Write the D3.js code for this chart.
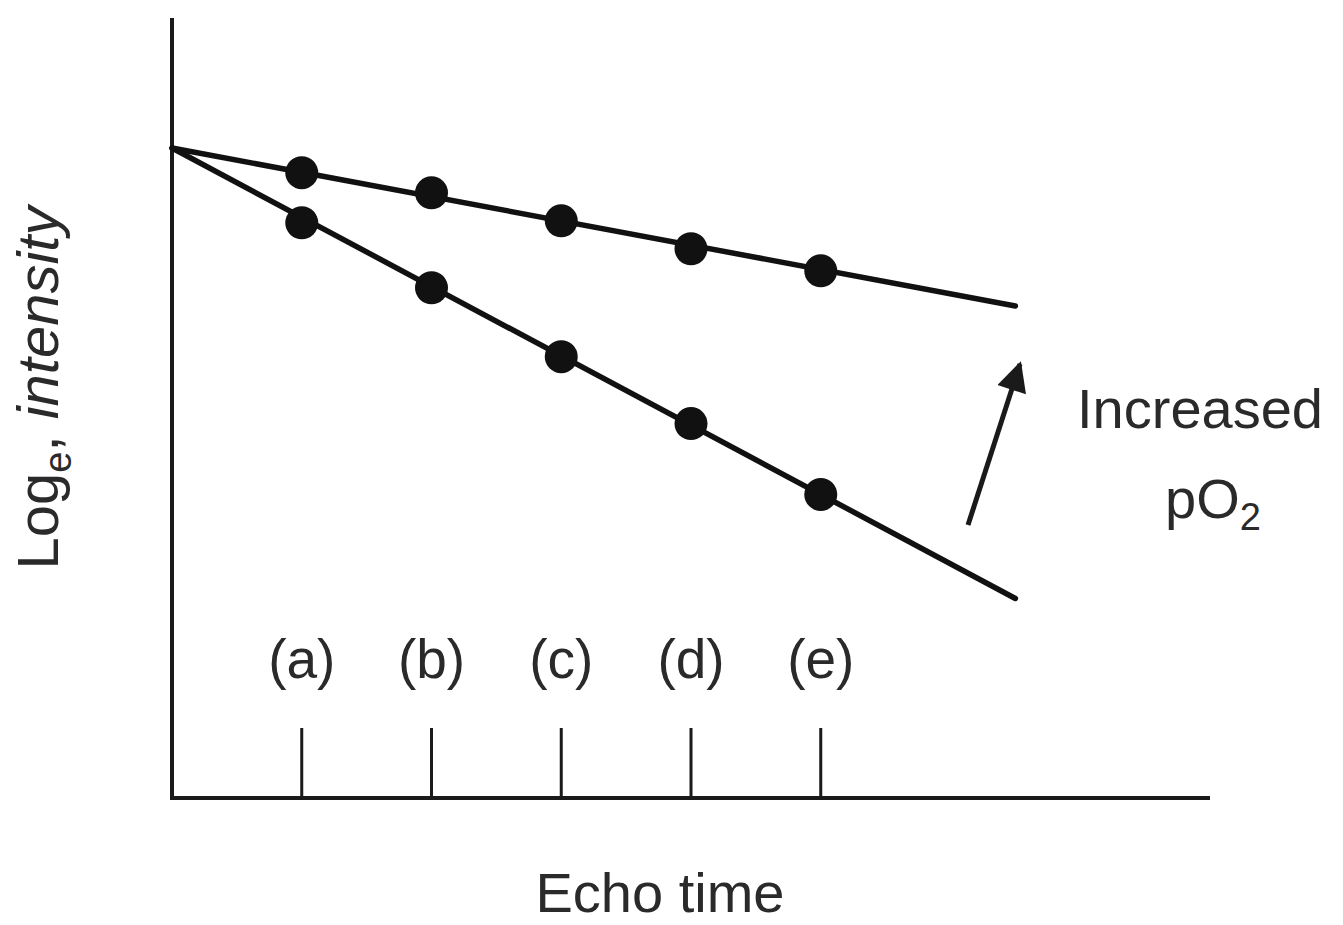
<!DOCTYPE html>
<html>
<head>
<meta charset="utf-8">
<script src="https://cdn.jsdelivr.net/npm/d3@7"></script>
<style>
  body { margin: 0; background: #fff; }
  text { font-family: "Liberation Sans", Arial, sans-serif; fill: #2a2a2a; }
</style>
</head>
<body>
<svg class="chart"></svg>
<script>
var width = 1343
var height = 925

// echo times (a)..(e) and the two decay series (log intensity)
var echoLabels = ['(a)', '(b)', '(c)', '(d)', '(e)']
var echoTimes = [1, 2, 3, 4, 5]
var highPO2 = [9.62, 9.31, 8.88, 8.45, 8.11]
var lowPO2 = [8.85, 7.85, 6.79, 5.76, 4.67]
// fitted lines: [start, end] as [time, log intensity]
var highLine = [[0, 10], [6.5, 7.57]]
var lowLine = [[0, 10], [6.5, 3.07]]

var svg = d3.select('.chart')
    .attr('width', width)
    .attr('height', height)

var x = d3.scaleLinear().domain([0, 8]).range([172, 1210])
var y = d3.scaleLinear().domain([0, 12]).range([798, 18])

var defs = svg.append('defs')
defs.append('marker')
    .attr('id', 'head')
    .attr('viewBox', '0 0 10 10')
    .attr('refX', 9).attr('refY', 5)
    .attr('markerWidth', 7).attr('markerHeight', 6)
    .attr('markerUnits', 'strokeWidth')
    .attr('orient', 'auto')
    .append('path')
    .attr('d', 'M0,0 L10,5 L0,10 z')
    .attr('fill', '#1a1a1a')

// axes
svg.append('line')
    .attr('x1', x(0)).attr('x2', x(0))
    .attr('y1', y(12)).attr('y2', y(0) + 2)
    .attr('stroke', '#1a1a1a').attr('stroke-width', 4)
svg.append('line')
    .attr('x1', x(0) - 2).attr('x2', x(8))
    .attr('y1', y(0)).attr('y2', y(0))
    .attr('stroke', '#1a1a1a').attr('stroke-width', 4)

// ticks pointing up from the x axis
svg.selectAll('.tick')
    .data(echoTimes)
    .enter().append('line')
    .attr('class', 'tick')
    .attr('x1', d => x(d)).attr('x2', d => x(d))
    .attr('y1', y(0)).attr('y2', y(0) - 70)
    .attr('stroke', '#1a1a1a').attr('stroke-width', 3)

svg.selectAll('.tlabel')
    .data(echoTimes)
    .enter().append('text')
    .attr('class', 'tlabel')
    .attr('x', d => x(d))
    .attr('y', 678)
    .attr('text-anchor', 'middle')
    .attr('font-size', 55)
    .text((d, i) => echoLabels[i])

// fitted lines
var line = d3.line().x(d => x(d[0])).y(d => y(d[1]))
;[highLine, lowLine].forEach(function (l) {
    svg.append('path')
        .attr('d', line(l))
        .attr('fill', 'none')
        .attr('stroke', '#111')
        .attr('stroke-width', 5.5)
        .attr('stroke-linecap', 'round')
})

// data points
;[highPO2, lowPO2].forEach(function (s) {
    svg.selectAll(null)
        .data(s)
        .enter().append('circle')
        .attr('cx', (d, i) => x(echoTimes[i]))
        .attr('cy', d => y(d))
        .attr('r', 16.5)
        .attr('fill', '#111')
})

// axis titles
svg.append('text')
    .attr('x', 660).attr('y', 912)
    .attr('text-anchor', 'middle')
    .attr('font-size', 56)
    .text('Echo time')

var yl = svg.append('text')
    .attr('transform', 'translate(58,388) rotate(-90)')
    .attr('text-anchor', 'middle')
    .attr('font-size', 58)
yl.append('tspan').text('Log')
yl.append('tspan').attr('font-size', 38).attr('dy', 13).text('e')
yl.append('tspan').attr('dy', -13).text(', ')
yl.append('tspan').attr('font-style', 'italic').text('intensity')

// annotation arrow
svg.append('line')
    .attr('x1', 968).attr('y1', 525)
    .attr('x2', 1020).attr('y2', 364)
    .attr('stroke', '#1a1a1a').attr('stroke-width', 5)
    .attr('marker-end', 'url(#head)')

svg.append('text')
    .attr('x', 1200).attr('y', 428)
    .attr('text-anchor', 'middle')
    .attr('font-size', 56)
    .text('Increased')

var po = svg.append('text')
    .attr('x', 1213).attr('y', 518)
    .attr('text-anchor', 'middle')
    .attr('font-size', 56)
po.append('tspan').text('pO')
po.append('tspan').attr('font-size', 38).attr('dy', 12).text('2')
</script>
</body>
</html>
